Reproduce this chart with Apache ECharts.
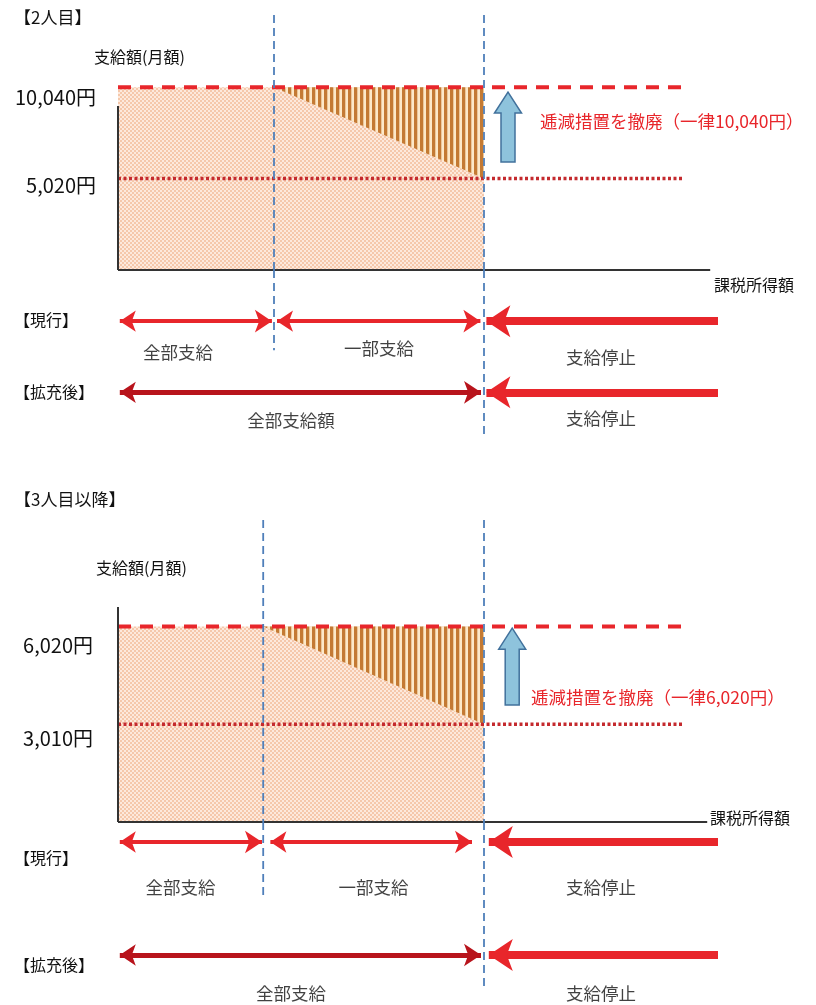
<!DOCTYPE html>
<html><head><meta charset="utf-8">
<script src="https://cdn.jsdelivr.net/npm/echarts@6/dist/echarts.min.js"></script>
<style>html,body{margin:0;padding:0;background:#fff}#c{width:816px;height:1005px}</style>
</head><body><div id="c"></div>
<script>
// ---------- data ----------
const panelTitles = ['【2人目】', '【3人目以降】'];
const fullAmounts = [10040, 6020];
const halfAmounts = [5020, 3010];
const amountLabels = [['10,040円', '5,020円'], ['6,020円', '3,010円']];
const partialStart = [26, 24.2];     // taxable income (schematic units 0-100) where partial payment begins
const stopPoint = [61, 61];          // taxable income where payment stops
const referenceLineEnd = [94, 94];
const incomeAxisEnd = [98.7, 98.2];
const amountAxisTop = [9000, 6620];
const upArrowX = [65, 65.7];
const upArrowFrom = [5930, 3600];
const upArrowTo = [9770, 5970];
const stopArrowFrom = 100;
const annotations = ['逓減措置を撤廃（一律10,040円）', '逓減措置を撤廃（一律6,020円）'];
const rowNames = ['【現行】', '【拡充後】'];
const currentLabels = ['全部支給', '一部支給', '支給停止'];
const expandedLabels = [['全部支給額', '支給停止'], ['全部支給', '支給停止']];
const amountAxisName = '支給額(月額)';
const incomeAxisName = '課税所得額';

// ---------- layout / style ----------
const FONT = '"Noto Sans CJK JP", "Noto Sans", sans-serif';
const layout = [
  { chartTop: 15, chartH: 255, yMax: 14000, rowTop: 270, rowH: 165, rowMin: -0.6, rowMax: 1.72, d1End: 0.59, d2End: -0.6,
    gaps: [0.35, 0.5, 0.6, 0.4],
    curOff: [[-18, 31], [0, 27], [0, 36]], expOff: [[-10, 28], [0, 26]] },
  { chartTop: 520, chartH: 302, yMax: 9300, rowTop: 822, rowH: 178, rowMin: -0.398, rowMax: 1.177, d1End: 0.487, d2End: -0.31,
    gaps: [0.2, 1.2, 2.0, 0.8],
    curOff: [[-10, 45], [0, 45], [0, 45]], expOff: [[-10, 38], [0, 38]] }
];
const textPos = [
  { title: [14, 18], axisName: [94, 57], lab1: [96, 97], lab2: [96, 185], xName: [714, 285], ann: [540, 121], row1: [14, 320], row2: [14, 392] },
  { title: [14, 500], axisName: [96, 568], lab1: [93, 645], lab2: [93, 738], xName: [710, 818], ann: [531, 697], row1: [14, 858], row2: [14, 965] }
];

function makePattern(w, h, draw) {
  const c = document.createElement('canvas'); c.width = w; c.height = h;
  draw(c.getContext('2d'));
  return { image: c, repeat: 'repeat' };
}
const peachPattern = makePattern(4, 4, g => {
  g.fillStyle = '#fde9dc'; g.fillRect(0, 0, 4, 4);
  g.fillStyle = '#f5c8ab'; g.fillRect(0, 0, 2, 2); g.fillRect(2, 2, 2, 2);
});
const stripePattern = makePattern(6, 2, g => {
  g.fillStyle = '#fde9c8'; g.fillRect(0, 0, 6, 2);
  g.fillStyle = '#c47a33'; g.fillRect(0, 0, 3.3, 2);
});

const RED = '#e8262b', DARKRED = '#b8141c', BLUE = '#4f7fba';

function lineSeries(gi, data, ls, z) {
  return { type: 'line', xAxisIndex: gi, yAxisIndex: gi, data, showSymbol: false, symbol: 'none', silent: true, z: z || 3,
    lineStyle: ls, animation: false };
}
function arrowSeries(gi, coords, symbol, size, color, width) {
  return { type: 'lines', coordinateSystem: 'cartesian2d', xAxisIndex: gi, yAxisIndex: gi, silent: true, z: 4,
    symbol, symbolSize: size, lineStyle: { color, width, opacity: 1, curveness: 0 },
    data: [{ coords }] };
}

function panelSeries(p) {
  const L = layout[p], cg = p * 2, rg = p * 2 + 1;
  const full = fullAmounts[p], half = halfAmounts[p], x1 = partialStart[p], x2 = stopPoint[p];
  const G = L.gaps;
  const s = [];
  // base fill
  s.push({ type: 'custom', xAxisIndex: cg, yAxisIndex: cg, z: 1, silent: true, data: [[0, x2, full]],
    renderItem: (params, api) => {
      const a = api.coord([api.value(0), 0]), b = api.coord([api.value(1), api.value(2)]);
      return { type: 'rect', shape: { x: a[0], y: b[1], width: b[0] - a[0], height: a[1] - b[1] }, style: { fill: peachPattern } };
    } });
  // removed reduction (triangle)
  s.push({ type: 'custom', xAxisIndex: cg, yAxisIndex: cg, z: 2, silent: true, data: [[x1, x2, full, half]],
    renderItem: (params, api) => {
      const a = api.coord([api.value(0), api.value(2)]), b = api.coord([api.value(1), api.value(2)]), c = api.coord([api.value(1), api.value(3)]);
      return { type: 'polygon', shape: { points: [a, b, c] }, style: { fill: stripePattern } };
    } });
  // reference lines
  s.push(lineSeries(cg, [[0, full], [referenceLineEnd[p], full]], { color: RED, width: 4, type: [13, 9] }));
  s.push(lineSeries(cg, [[0, half], [referenceLineEnd[p], half]], { color: '#c42a2e', width: 3.5, type: [3, 2.5] }));
  // axes
  s.push(lineSeries(cg, [[0, 0], [0, amountAxisTop[p]]], { color: '#333', width: 2 }, 5));
  s.push(lineSeries(cg, [[0, 0], [incomeAxisEnd[p], 0]], { color: '#333', width: 2 }, 5));
  // blue thresholds
  const bl = { color: BLUE, width: 1.8, type: [8, 5] };
  s.push(lineSeries(cg, [[x1, L.yMax], [x1, 0]], bl, 6));
  s.push(lineSeries(cg, [[x2, L.yMax], [x2, 0]], bl, 6));
  s.push(lineSeries(rg, [[x1, L.rowMax], [x1, L.d1End]], bl, 6));
  s.push(lineSeries(rg, [[x2, L.rowMax], [x2, L.d2End]], bl, 6));
  // up arrow
  s.push({ type: 'custom', xAxisIndex: cg, yAxisIndex: cg, z: 7, silent: true, data: [[upArrowX[p], upArrowFrom[p], upArrowTo[p]]],
    renderItem: (params, api) => {
      const b = api.coord([api.value(0), api.value(1)]), t = api.coord([api.value(0), api.value(2)]);
      const cx = b[0], sw = 7, hw = 13.5, hl = 21;
      const pts = [[cx - sw, b[1]], [cx - sw, t[1] + hl], [cx - hw, t[1] + hl], [cx, t[1]], [cx + hw, t[1] + hl], [cx + sw, t[1] + hl], [cx + sw, b[1]]];
      return { type: 'polygon', shape: { points: pts }, style: { fill: '#8ec3dc', stroke: '#41719c', lineWidth: 1.5 } };
    } });
  // row arrows: current (row 1)
  s.push(arrowSeries(rg, [[0.3, 1], [x1 - G[0], 1]], ['arrow', 'arrow'], [16, 17], RED, 4));
  s.push(arrowSeries(rg, [[x1 + G[1], 1], [x2 - G[2], 1]], ['arrow', 'arrow'], [16, 17], RED, 4));
  s.push(arrowSeries(rg, [[stopArrowFrom, 1], [x2 + G[3], 1]], ['none', 'arrow'], [22, 24], RED, 8));
  // expanded (row 0)
  s.push(arrowSeries(rg, [[0.3, 0], [x2 - 0.5, 0]], ['arrow', 'arrow'], [16, 17], DARKRED, 5));
  s.push(arrowSeries(rg, [[stopArrowFrom, 0], [x2 + G[3], 0]], ['none', 'arrow'], [22, 24], RED, 8));
  // segment labels
  const segCur = [(0 + x1) / 2, (x1 + x2) / 2, (x2 + stopArrowFrom) / 2];
  const segExp = [(0 + x2) / 2, (x2 + stopArrowFrom) / 2];
  const labData = [];
  currentLabels.forEach((n, i) => labData.push({ name: n, value: [segCur[i], 1], label: { offset: L.curOff[i] } }));
  expandedLabels[p].forEach((n, i) => labData.push({ name: n, value: [segExp[i], 0], label: { offset: L.expOff[i] } }));
  s.push({ type: 'scatter', xAxisIndex: rg, yAxisIndex: rg, silent: true, z: 8, symbolSize: 1, itemStyle: { color: 'rgba(0,0,0,0)' },
    label: { show: true, position: 'inside', formatter: '{b}', color: '#111', fontSize: 17.5, fontFamily: FONT },
    data: labData });
  return s;
}

const graphics = [];
function addText(pos, text, size, opts) {
  opts = opts || {};
  graphics.push({ type: 'text', x: pos[0], y: pos[1], silent: true,
    style: { text, font: `${opts.weight || 'normal'} ${size}px ${FONT}`, fill: opts.color || '#111', align: opts.align || 'left', verticalAlign: 'middle' } });
}
[0, 1].forEach(p => {
  const T = textPos[p];
  addText(T.title, panelTitles[p], 17);
  addText(T.axisName, amountAxisName, 16);
  addText(T.lab1, amountLabels[p][0], 20, { align: 'right' });
  addText(T.lab2, amountLabels[p][1], 20, { align: 'right' });
  addText(T.xName, incomeAxisName, 16);
  addText(T.ann, annotations[p], 17.5, { color: RED });
  addText(T.row1, rowNames[0], 16);
  addText(T.row2, rowNames[1], 16);
});

const grids = [], xAxes = [], yAxes = [];
layout.forEach((L, p) => {
  grids.push({ left: 118, width: 600, top: L.chartTop, height: L.chartH });
  grids.push({ left: 118, width: 600, top: L.rowTop, height: L.rowH });
  xAxes.push({ type: 'value', gridIndex: p * 2, min: 0, max: 100, show: false });
  xAxes.push({ type: 'value', gridIndex: p * 2 + 1, min: 0, max: 100, show: false });
  yAxes.push({ type: 'value', gridIndex: p * 2, min: 0, max: L.yMax, show: false });
  yAxes.push({ type: 'value', gridIndex: p * 2 + 1, min: L.rowMin, max: L.rowMax, show: false });
});

const chart = echarts.init(document.getElementById('c'), null, { renderer: 'canvas' });
chart.setOption({
  animation: false,
  backgroundColor: '#fff',
  grid: grids, xAxis: xAxes, yAxis: yAxes,
  series: [...panelSeries(0), ...panelSeries(1)],
  graphic: graphics
});
</script></body></html>
